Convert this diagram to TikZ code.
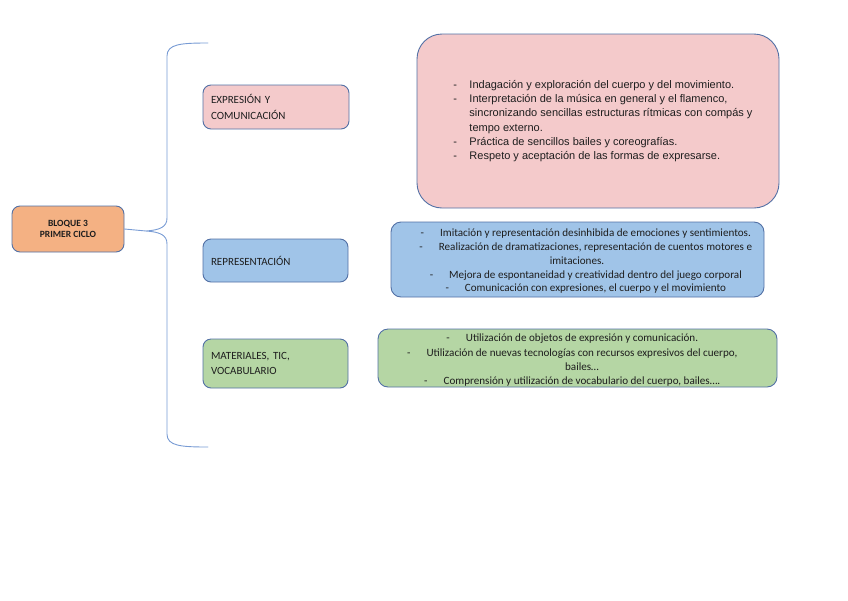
\documentclass[tikz,border=0pt]{standalone}
\usepackage{fontspec}
\setmainfont{Carlito}
\newfontfamily\arialfont{Liberation Sans}

\tikzset{
	caja/.style={draw=BORDE, line width=0.9, rounded corners=8, inner sep=0,
		font=\fontsize{11}{15.5}\selectfont, text=TEXTO},
	lista/.style={draw=BORDE, line width=0.9, rounded corners=10, inner sep=0,
		font=\fontsize{11.1}{13.8}\selectfont, text=TEXTO},
	llave/.style={LLAVE, line width=0.9, line cap=round}
}
\newcommand{\guion}[1]{\llap{-\hspace{16pt}}#1}
\newcommand{\bajar}[2]{\raisebox{-#1}[\height][\depth]{#2}}

\begin{document}
\begin{tikzpicture}[x=1pt,y=-1pt]
	\definecolor{BORDE}{RGB}{82,112,165}
	\definecolor{LLAVE}{RGB}{120,155,212}
	\definecolor{TEXTO}{RGB}{30,30,30}
	\definecolor{NARANJA}{RGB}{244,177,131}
	\definecolor{ROSA}{RGB}{244,202,203}
	\definecolor{AZUL}{RGB}{160,196,232}
	\definecolor{VERDE}{RGB}{181,214,164}
	\useasboundingbox (0,0) rectangle (848,600);
	% bloque principal
	\node[caja, fill=NARANJA, minimum width=112, minimum height=46,
		align=center, font=\fontsize{9.5}{10.5}\selectfont\bfseries]
	(bloque) at (68,229) {BLOQUE 3\\PRIMER CICLO};
	\coordinate (punta) at (146,231);
	\draw[llave] (bloque.east) -- (punta);
	\draw[llave]
	(208,43) .. controls (181,43) and (167,44) .. (167,56) -- (167,218)
	.. controls (167,227) and (160,230) .. (punta)
	.. controls (160,232) and (167,235) .. (167,244) -- (167,434)
	.. controls (167,446) and (181,447) .. (208,447);
	% apartados
	\node[caja, fill=ROSA, minimum width=146, minimum height=44,
		text width=130, align=left]
	(expresion) at (276,107) {EXPRESIÓN Y\\COMUNICACIÓN};
	\node[caja, fill=AZUL, minimum width=145, minimum height=43,
		text width=129, align=left]
	(representacion) at (275.5,260.5) {REPRESENTACIÓN};
	\node[caja, fill=VERDE, minimum width=145, minimum height=49,
		text width=129, align=left]
	(materiales) at (275.5,363.5) {MATERIALES, TIC,\\VOCABULARIO};
	% contenidos
	\node[lista, fill=ROSA, rounded corners=25, minimum width=362, minimum height=174,
		font=\arialfont\fontsize{11}{14.3}\selectfont]
	(contexpresion) at (598,121) {\hspace*{10pt}%
		\begin{tabular}{@{}p{16pt}@{}l@{}}
			- & Indagación y exploración del cuerpo y del movimiento.\\
			- & Interpretación de la música en general y el flamenco,\\
			  & sincronizando sencillas estructuras rítmicas con compás y\\
			  & tempo externo.\\
			- & Práctica de sencillos bailes y coreografías.\\
			- & Respeto y aceptación de las formas de expresarse.
		\end{tabular}};
	\node[lista, fill=AZUL, minimum width=373, minimum height=75]
	(contrepresentacion) at (577.5,259.5) {\hspace*{36pt}%
		\bajar{2pt}{\begin{tabular}{@{}c@{}}
			\guion{Imitación y representación desinhibida de emociones y sentimientos.}\\
			\guion{Realización de dramatizaciones, representación de cuentos motores e}\\
			imitaciones.\hspace*{37pt}\\
			\guion{Mejora de espontaneidad y creatividad dentro del juego corporal}\\
			\guion{Comunicación con expresiones, el cuerpo y el movimiento}
		\end{tabular}}};
	\node[lista, fill=VERDE, minimum width=399, minimum height=58,
		font=\fontsize{11.1}{14.3}\selectfont]
	(contmateriales) at (577.5,358) {\hspace*{9pt}%
		\bajar{2.5pt}{\begin{tabular}{@{}c@{}}
			\guion{Utilización de objetos de expresión y comunicación.}\\
			\guion{Utilización de nuevas tecnologías con recursos expresivos del cuerpo,}\\
			bailes\dots\\
			\guion{Comprensión y utilización de vocabulario del cuerpo, bailes\dots.}
		\end{tabular}}};
\end{tikzpicture}
\end{document}
